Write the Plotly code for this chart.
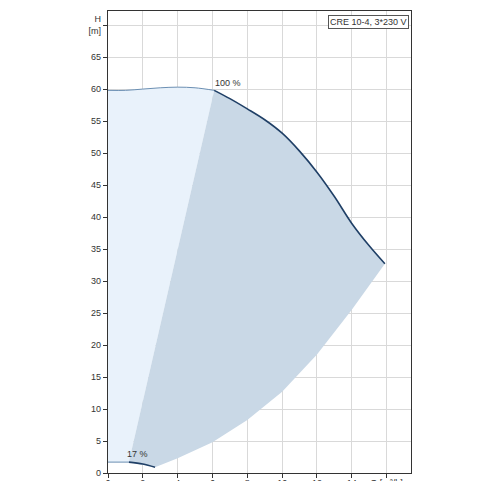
import plotly.graph_objects as go

q100 = [0, 1, 2, 3, 4, 5, 6.1, 7, 8, 9, 10, 11, 12, 13, 14, 15, 15.9]
h100 = [59.8, 59.8, 60.0, 60.2, 60.3, 60.2, 59.8, 58.5, 56.9, 55.2, 53.1, 50.3, 47.0, 43.2, 39.0, 35.5, 32.7]
q17 = [0, 1.2, 2.0, 2.7]
h17 = [1.7, 1.7, 1.4, 0.9]
q_low = [15.9, 14, 12, 10, 8, 6, 4, 2.7]
h_low = [32.7, 25.5, 18.5, 12.7, 8.3, 4.8, 2.3, 0.9]
xtick_vals = [0, 2, 4, 6, 8, 10, 12, 14, 16]
xtick_text = ["0", "2", "4", "6", "8", "10", "12", "14", "Q [m³/h]"]
ytick_vals = [0, 5, 10, 15, 20, 25, 30, 35, 40, 45, 50, 55, 60, 65, 70]
ytick_text = [str(v) for v in ytick_vals[:-1]] + ["H<br>[m]"]

fig = go.Figure()
# light region
lx = q100[:7] + [q17[1], 0]
ly = h100[:7] + [h17[1], h17[0]]
fig.add_trace(go.Scatter(x=lx, y=ly, fill="toself", fillcolor="#e9f2fb", line=dict(width=0), mode="lines", hoverinfo="skip"))
# dark region
dx = [q17[1]] + q100[6:] + q_low[1:] + [q17[1]]
dy = [h17[1]] + h100[6:] + h_low[1:] + [h17[1]]
fig.add_trace(go.Scatter(x=dx, y=dy, fill="toself", fillcolor="#c9d8e6", line=dict(width=0), mode="lines", hoverinfo="skip"))
# curves
fig.add_trace(go.Scatter(x=q100[:7], y=h100[:7], mode="lines", line=dict(color="#6b8fb3", width=1, shape="spline")))
fig.add_trace(go.Scatter(x=q100[6:], y=h100[6:], mode="lines", line=dict(color="#1f3f66", width=1.6, shape="spline")))
fig.add_trace(go.Scatter(x=q17[:2], y=h17[:2], mode="lines", line=dict(color="#6b8fb3", width=1)))
fig.add_trace(go.Scatter(x=q17[1:], y=h17[1:], mode="lines", line=dict(color="#1f3f66", width=1.6, shape="spline")))

fig.add_annotation(x=6.1, y=59.8, text="100 %", showarrow=False, xanchor="left", yanchor="bottom", xshift=-1, font=dict(size=9, color="#333"))
fig.add_annotation(x=1.0, y=1.7, text="17 %", showarrow=False, xanchor="left", yanchor="bottom", yshift=1, font=dict(size=9, color="#333"))
fig.add_annotation(xref="paper", yref="paper", x=0.995, y=0.992, text="CRE 10-4, 3*230 V", showarrow=False,
                   xanchor="right", yanchor="top", bordercolor="#555", borderwidth=1, bgcolor="white", font=dict(size=9, color="#333"))

axis_common = dict(showgrid=True, gridcolor="#d9d9d9", gridwidth=1, zeroline=False, showline=True, linecolor="#333",
                   linewidth=1.2, mirror=True, ticks="outside", ticklen=4, tickcolor="#333", automargin=False,
                   tickfont=dict(size=9, color="#333"))
fig.update_xaxes(range=[0, 17.4], tickvals=xtick_vals, ticktext=xtick_text, **axis_common)
fig.update_yaxes(range=[0, 72.2], tickvals=ytick_vals, ticktext=ytick_text, **axis_common)
fig.update_layout(width=481, height=481, margin=dict(l=100, r=78, t=3, b=16, pad=0), showlegend=False,
                  plot_bgcolor="white", paper_bgcolor="white", font=dict(family="Liberation Sans"))
fig.update_xaxes(ticklabelstandoff=-3)
fig.write_html("out.html")
